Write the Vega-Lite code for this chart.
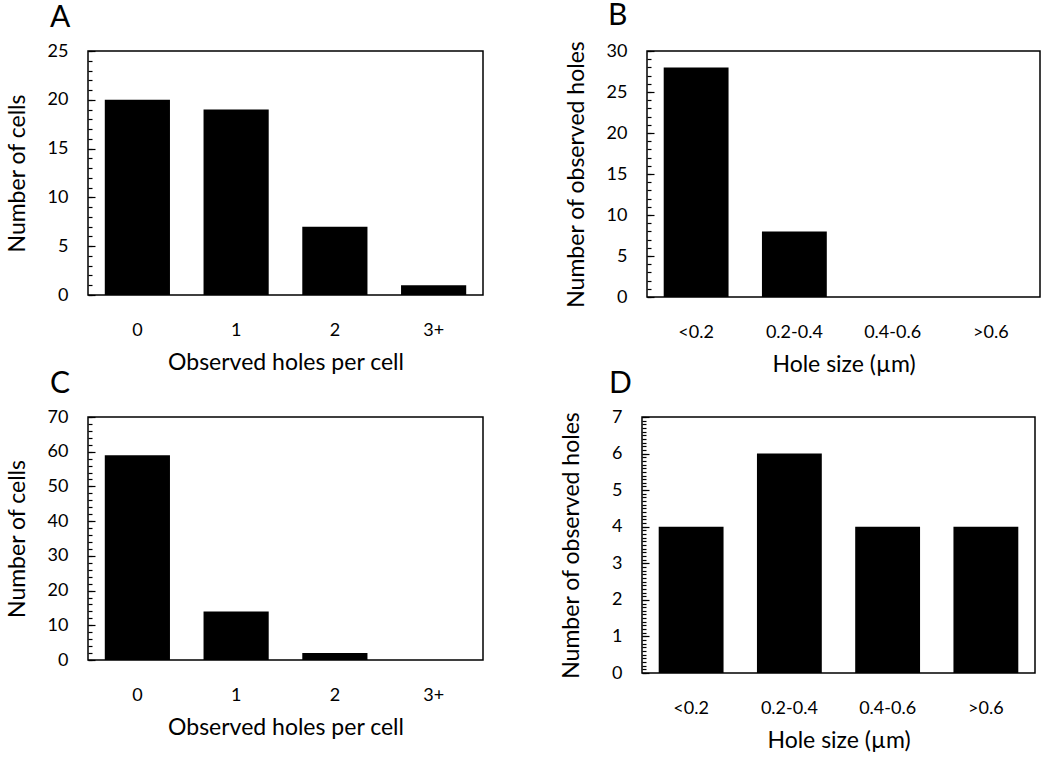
{
  "$schema": "https://vega.github.io/schema/vega-lite/v6.json",
  "padding": {"left": 5, "top": 0, "right": 5, "bottom": 5},
  "background": "white",
  "config": {
    "font": "Lato",
    "view": {"stroke": "black", "strokeWidth": 1.5},
    "axis": {
      "labelFont": "Lato", "titleFont": "Lato", "labelColor": "black", "titleColor": "black",
      "labelFontSize": 18, "titleFontSize": 23, "titleFontWeight": "normal",
      "domain": false, "grid": false, "tickColor": "black", "tickWidth": 1.2,
      "labelOverlap": false, "labelFlush": false
    },
    "title": {"font": "Lato", "fontSize": 30, "fontWeight": "normal", "color": "black", "anchor": "start", "frame": "group", "offset": 9.5}
  },
  "datasets": {
    "a": [{"holes": "0", "cells": 20}, {"holes": "1", "cells": 19}, {"holes": "2", "cells": 7}, {"holes": "3+", "cells": 1}],
    "b": [{"size": "<0.2", "n": 28}, {"size": "0.2-0.4", "n": 8}, {"size": "0.4-0.6", "n": 0}, {"size": ">0.6", "n": 0}],
    "c": [{"holes": "0", "cells": 59}, {"holes": "1", "cells": 14}, {"holes": "2", "cells": 2}, {"holes": "3+", "cells": 0}],
    "d": [{"size": "<0.2", "n": 4}, {"size": "0.2-0.4", "n": 6}, {"size": "0.4-0.6", "n": 4}, {"size": ">0.6", "n": 4}]
  },
  "vconcat": [
    {
      "spacing": 80,
      "hconcat": [
        {
          "title": {"text": "A", "dx": -38},
          "width": 395, "height": 244,
          "data": {"name": "a"},
          "encoding": {
            "x": {"field": "holes", "type": "nominal", "sort": null, "scale": {"paddingInner": 0.34, "paddingOuter": 0.17},
              "axis": {"title": "Observed holes per cell", "labelAngle": 0, "ticks": false, "tickSize": 0, "labelPadding": 26, "titlePadding": 12}}
          },
          "layer": [
            {"mark": {"type": "bar", "color": "black"},
             "encoding": {"y": {"field": "cells", "type": "quantitative", "scale": {"domain": [0, 25], "nice": false},
              "axis": {"orient": "left", "title": "Number of cells", "ticks": false, "labelPadding": 20, "titlePadding": 18, "values": [0, 5, 10, 15, 20, 25]}}}},
            {"mark": {"type": "bar", "opacity": 0},
             "encoding": {"y": {"field": "cells", "type": "quantitative",
              "axis": {"orient": "left", "title": null, "labels": false, "offset": -4, "tickSize": 4,
                "values": [0,1,2,3,4,5,6,7,8,9,10,11,12,13,14,15,16,17,18,19,20,21,22,23,24,25]}}}},
            {"mark": {"type": "bar", "opacity": 0},
             "encoding": {"y": {"field": "cells", "type": "quantitative",
              "axis": {"orient": "left", "title": null, "labels": false, "offset": -7, "tickSize": 7, "values": [0, 5, 10, 15, 20, 25]}}}}
          ],
          "resolve": {"axis": {"y": "independent"}}
        },
        {
          "title": {"text": "B", "dx": -39},
          "width": 393, "height": 246,
          "data": {"name": "b"},
          "encoding": {
            "x": {"field": "size", "type": "nominal", "sort": null, "scale": {"paddingInner": 0.34, "paddingOuter": 0.17},
              "axis": {"title": "Hole size (µm)", "labelAngle": 0, "ticks": false, "tickSize": 0, "labelPadding": 26, "titlePadding": 12}}
          },
          "layer": [
            {"mark": {"type": "bar", "color": "black"},
             "encoding": {"y": {"field": "n", "type": "quantitative", "scale": {"domain": [0, 30], "nice": false},
              "axis": {"orient": "left", "title": "Number of observed holes", "ticks": false, "labelPadding": 20, "titlePadding": 18, "values": [0, 5, 10, 15, 20, 25, 30]}}}},
            {"mark": {"type": "bar", "opacity": 0},
             "encoding": {"y": {"field": "n", "type": "quantitative",
              "axis": {"orient": "left", "title": null, "labels": false, "offset": -4, "tickSize": 4,
                "values": [0,1,2,3,4,5,6,7,8,9,10,11,12,13,14,15,16,17,18,19,20,21,22,23,24,25,26,27,28,29,30]}}}},
            {"mark": {"type": "bar", "opacity": 0},
             "encoding": {"y": {"field": "n", "type": "quantitative",
              "axis": {"orient": "left", "title": null, "labels": false, "offset": -7, "tickSize": 7, "values": [0, 5, 10, 15, 20, 25, 30]}}}}
          ],
          "resolve": {"axis": {"y": "independent"}}
        }
      ]
    },
    {
      "spacing": 75,
      "hconcat": [
        {
          "title": {"text": "C", "dx": -38},
          "width": 395, "height": 243,
          "data": {"name": "c"},
          "encoding": {
            "x": {"field": "holes", "type": "nominal", "sort": null, "scale": {"paddingInner": 0.34, "paddingOuter": 0.17},
              "axis": {"title": "Observed holes per cell", "labelAngle": 0, "ticks": false, "tickSize": 0, "labelPadding": 26, "titlePadding": 12}}
          },
          "layer": [
            {"mark": {"type": "bar", "color": "black"},
             "encoding": {"y": {"field": "cells", "type": "quantitative", "scale": {"domain": [0, 70], "nice": false},
              "axis": {"orient": "left", "title": "Number of cells", "ticks": false, "labelPadding": 20, "titlePadding": 18, "values": [0, 10, 20, 30, 40, 50, 60, 70]}}}},
            {"mark": {"type": "bar", "opacity": 0},
             "encoding": {"y": {"field": "cells", "type": "quantitative",
              "axis": {"orient": "left", "title": null, "labels": false, "offset": -4, "tickSize": 4,
                "values": [0,2,4,6,8,10,12,14,16,18,20,22,24,26,28,30,32,34,36,38,40,42,44,46,48,50,52,54,56,58,60,62,64,66,68,70]}}}},
            {"mark": {"type": "bar", "opacity": 0},
             "encoding": {"y": {"field": "cells", "type": "quantitative",
              "axis": {"orient": "left", "title": null, "labels": false, "offset": -7, "tickSize": 7, "values": [0, 10, 20, 30, 40, 50, 60, 70]}}}}
          ],
          "resolve": {"axis": {"y": "independent"}}
        },
        {
          "title": {"text": "D", "dx": -33},
          "width": 393, "height": 256,
          "data": {"name": "d"},
          "encoding": {
            "x": {"field": "size", "type": "nominal", "sort": null, "scale": {"paddingInner": 0.34, "paddingOuter": 0.17},
              "axis": {"title": "Hole size (µm)", "labelAngle": 0, "ticks": false, "tickSize": 0, "labelPadding": 26, "titlePadding": 12}}
          },
          "layer": [
            {"mark": {"type": "bar", "color": "black"},
             "encoding": {"y": {"field": "n", "type": "quantitative", "scale": {"domain": [0, 7], "nice": false},
              "axis": {"orient": "left", "title": "Number of observed holes", "ticks": false, "labelPadding": 20, "titlePadding": 28, "values": [0, 1, 2, 3, 4, 5, 6, 7]}}}},
            {"mark": {"type": "bar", "opacity": 0},
             "encoding": {"y": {"field": "n", "type": "quantitative",
              "axis": {"orient": "left", "title": null, "labels": false, "offset": -4, "tickSize": 4,
                "values": [0,0.1,0.2,0.3,0.4,0.5,0.6,0.7,0.8,0.9,1,1.1,1.2,1.3,1.4,1.5,1.6,1.7,1.8,1.9,2,2.1,2.2,2.3,2.4,2.5,2.6,2.7,2.8,2.9,3,3.1,3.2,3.3,3.4,3.5,3.6,3.7,3.8,3.9,4,4.1,4.2,4.3,4.4,4.5,4.6,4.7,4.8,4.9,5,5.1,5.2,5.3,5.4,5.5,5.6,5.7,5.8,5.9,6,6.1,6.2,6.3,6.4,6.5,6.6,6.7,6.8,6.9,7]}}}},
            {"mark": {"type": "bar", "opacity": 0},
             "encoding": {"y": {"field": "n", "type": "quantitative",
              "axis": {"orient": "left", "title": null, "labels": false, "offset": -7, "tickSize": 7, "values": [0, 1, 2, 3, 4, 5, 6, 7]}}}}
          ],
          "resolve": {"axis": {"y": "independent"}}
        }
      ]
    }
  ],
  "spacing": -10
}
